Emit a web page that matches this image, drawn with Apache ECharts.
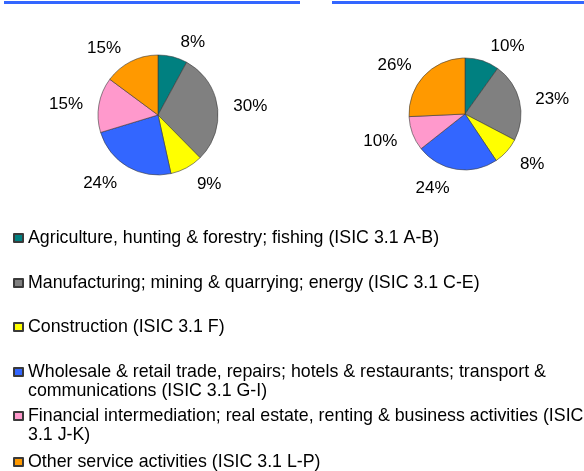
<!DOCTYPE html>
<html>
<head>
<meta charset="utf-8">
<script src="https://cdn.jsdelivr.net/npm/echarts@6/dist/echarts.min.js"></script>
<style>
  html, body { margin: 0; padding: 0; background: #fff; }
  #chart { width: 584px; height: 471px; }
</style>
</head>
<body>
<div id="chart"></div>
<script>
const sectors = [
    'Agriculture, hunting & forestry; fishing (ISIC 3.1 A-B)',
    'Manufacturing; mining & quarrying; energy (ISIC 3.1 C-E)',
    'Construction (ISIC 3.1 F)',
    'Wholesale & retail trade, repairs; hotels & restaurants; transport & communications (ISIC 3.1 G-I)',
    'Financial intermediation; real estate, renting & business activities (ISIC 3.1 J-K)',
    'Other service activities (ISIC 3.1 L-P)'
];
const leftPie = [8, 30, 9, 24, 15, 15];
const rightPie = [10, 23, 8, 24, 10, 26];
const sectorColors = ['#008080', '#808080', '#FFFF00', '#3366FF', '#FF99CC', '#FF9900'];

// icon centre y of each legend row, and how many text lines it takes
const legendRows = [238, 283, 327, 372, 416, 462];
const legendLines = [1, 1, 1, 2, 2, 1];

const FONT = 'Liberation Sans, Arial, sans-serif';
const LINE_H = 19;

// Excel keeps the label box off the pie edge, so nudge labels
// below the centre down and the ones above up a little
function labelShifts(values) {
    var total = values.reduce(function (a, b) { return a + b; }, 0);
    var acc = 0;
    return values.map(function (v) {
        var mid = (acc + v / 2) / total * 2 * Math.PI;
        acc += v;
        return 2 - 6 * Math.cos(mid);
    });
}

function makePie(values, center, radius, lineLen) {
    var shifts = labelShifts(values);
    return {
        type: 'pie',
        center: center,
        radius: radius,
        startAngle: 90,
        clockwise: true,
        avoidLabelOverlap: false,
        data: values.map(function (v, i) {
            return { name: sectors[i], value: v, itemStyle: { color: sectorColors[i] } };
        }),
        itemStyle: { borderColor: '#3a3a3a', borderWidth: 0.6 },
        label: {
            show: true,
            position: 'outside',
            formatter: '{c}%',
            color: '#000',
            fontSize: 17,
            fontFamily: FONT
        },
        labelLine: { show: false, length: lineLen, length2: 0 },
        labelLayout: function (params) {
            return { dy: shifts[params.dataIndex] };
        },
        emphasis: { disabled: true }
    };
}

var chartDom = document.getElementById('chart');
var myChart = echarts.init(chartDom, null, { renderer: 'canvas' });

// one legend per row so wrapped rows keep the icon on the first line
var legends = sectors.map(function (name, i) {
    var two = legendLines[i] === 2;
    return {
        orient: 'vertical',
        left: 13,
        top: two ? legendRows[i] - LINE_H * 1.5 : legendRows[i] - LINE_H / 2,
        padding: 0,
        itemWidth: 9,
        itemHeight: 8,
        icon: 'rect',
        selectedMode: false,
        data: [name],
        formatter: function (n) {
            // empty first line keeps the icon level with the first text line
            return two ? '\n' + n : n;
        },
        textStyle: {
            color: '#000',
            fontSize: 17.8,
            fontFamily: FONT,
            lineHeight: LINE_H,
            width: 564,
            overflow: 'break'
        }
    };
});

var option = {
    animation: false,
    backgroundColor: '#fff',
    graphic: [
        { type: 'rect', shape: { x: 4, y: 1, width: 296, height: 3 }, style: { fill: '#3366FF' } },
        { type: 'rect', shape: { x: 332, y: 1, width: 252, height: 3 }, style: { fill: '#3366FF' } }
    ],
    legend: legends,
    series: [
        makePie(leftPie, [158, 115], 60, 11),
        makePie(rightPie, [465, 114], 56, 11)
    ]
};
myChart.setOption(option);

window.onresize = function () {
    myChart.resize();
};
</script>
</body>
</html>
